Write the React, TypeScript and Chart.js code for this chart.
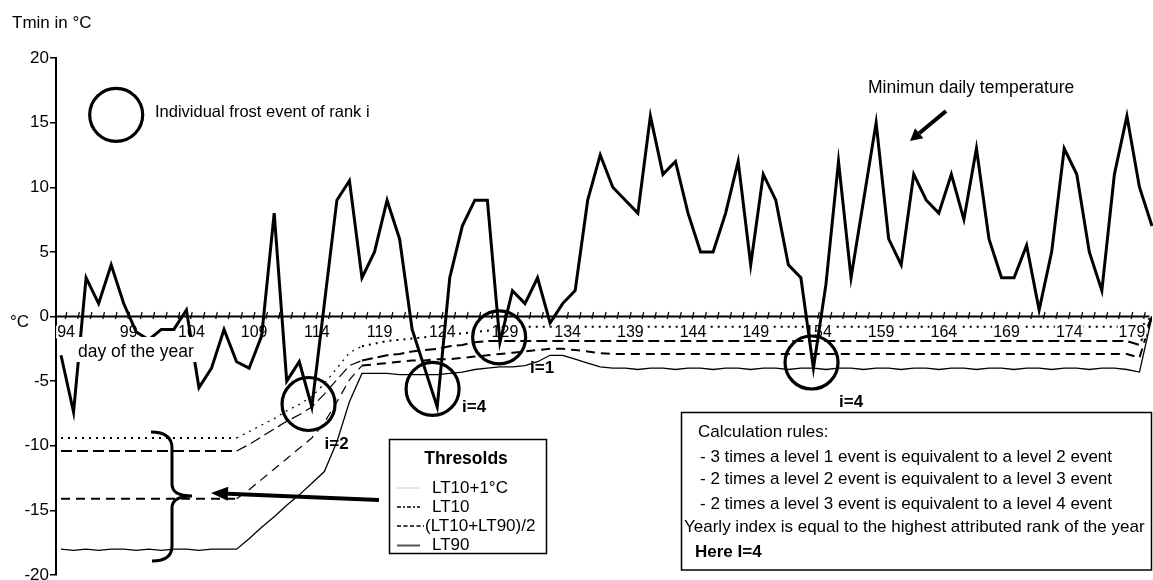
import React, { useEffect, useRef } from 'react';
import { Chart, registerables } from 'chart.js';

Chart.register(...registerables);

const FONT = '"Liberation Sans", Arial, Helvetica, sans-serif';

// Day of the year (categories)
const days = [
  94, 95, 96, 97, 98, 99, 100, 101, 102, 103,
  104, 105, 106, 107, 108, 109, 110, 111, 112, 113,
  114, 115, 116, 117, 118, 119, 120, 121, 122, 123,
  124, 125, 126, 127, 128, 129, 130, 131, 132, 133,
  134, 135, 136, 137, 138, 139, 140, 141, 142, 143,
  144, 145, 146, 147, 148, 149, 150, 151, 152, 153,
  154, 155, 156, 157, 158, 159, 160, 161, 162, 163,
  164, 165, 166, 167, 168, 169, 170, 171, 172, 173,
  174, 175, 176, 177, 178, 179, 180, 181,
];

// Minimum daily temperature (°C)
const tmin = [
  -3, -7.4, 3, 1, 4, 1, -1.2, -1.8, -1, -1,
  0.5, -5.5, -4, -1, -3.5, -4, -1.5, 8, -5, -3.5,
  -7, 1, 9, 10.5, 3, 5, 9, 6, -1, -4,
  -7, 3, 7, 9, 9, -2, 2, 1, 3, -0.5,
  1, 2, 9, 12.5, 10, 9, 8, 15.5, 11, 12,
  8, 5, 5, 8, 12, 4, 11, 9, 4, 3,
  -4, 2.5, 12, 3, 9, 15, 6, 4, 11, 9,
  8, 11, 7.5, 13, 6, 3, 3, 5.5, 0.5, 5,
  13, 11, 5, 2, 11, 15.5, 10, 7,
];

// LT10 + 1°C threshold
const lt10plus1 = [
  -9.4, -9.4, -9.4, -9.4, -9.4, -9.4, -9.4, -9.4, -9.4, -9.4,
  -9.4, -9.4, -9.4, -9.4, -9.4, -8.9, -8.4, -7.9, -7.3, -6.8,
  -6.2, -5.2, -4.0, -2.8, -2.3, -2.1, -1.9, -1.8, -1.7, -1.6,
  -1.5, -1.4, -1.3, -1.2, -1.1, -1.0, -0.9, -0.8, -0.8, -0.8,
  -0.8, -0.8, -0.8, -0.8, -0.8, -0.8, -0.8, -0.8, -0.8, -0.8,
  -0.8, -0.8, -0.8, -0.8, -0.8, -0.8, -0.8, -0.8, -0.8, -0.8,
  -0.8, -0.8, -0.8, -0.8, -0.8, -0.8, -0.8, -0.8, -0.8, -0.8,
  -0.8, -0.8, -0.8, -0.8, -0.8, -0.8, -0.8, -0.8, -0.8, -0.8,
  -0.8, -0.8, -0.8, -0.8, -0.8, -0.8, -0.9, 0,
];

// LT10 threshold
const lt10 = [
  -10.4, -10.4, -10.4, -10.4, -10.4, -10.4, -10.4, -10.4, -10.4, -10.4,
  -10.4, -10.4, -10.4, -10.4, -10.4, -9.9, -9.3, -8.7, -8.1, -7.6,
  -7.0, -6.0, -4.9, -3.8, -3.4, -3.2, -3.0, -2.9, -2.7, -2.6,
  -2.5, -2.3, -2.2, -2.0, -1.9, -1.9, -1.9, -1.9, -1.9, -1.9,
  -1.9, -1.9, -1.9, -1.9, -1.9, -1.9, -1.9, -1.9, -1.9, -1.9,
  -1.9, -1.9, -1.9, -1.9, -1.9, -1.9, -1.9, -1.9, -1.9, -1.9,
  -1.9, -1.9, -1.9, -1.9, -1.9, -1.9, -1.9, -1.9, -1.9, -1.9,
  -1.9, -1.9, -1.9, -1.9, -1.9, -1.9, -1.9, -1.9, -1.9, -1.9,
  -1.9, -1.9, -1.9, -1.9, -1.9, -1.9, -2.2, 0,
];

// (LT10 + LT90) / 2 threshold
const ltMid = [
  -14.1, -14.1, -14.1, -14.1, -14.1, -14.1, -14.1, -14.1, -14.1, -14.1,
  -14.1, -14.1, -14.1, -14.1, -14.1, -13.4, -12.6, -11.8, -11.0, -10.2,
  -9.4, -8.2, -6.6, -4.9, -3.8, -3.7, -3.6, -3.5, -3.4, -3.4,
  -3.3, -3.3, -3.2, -3.1, -3.0, -2.9, -2.8, -2.7, -2.6, -2.5,
  -2.5, -2.6, -2.7, -2.85, -2.9, -2.9, -2.9, -2.9, -2.9, -2.9,
  -2.9, -2.9, -2.9, -2.9, -2.9, -2.9, -2.9, -2.9, -2.9, -2.9,
  -2.9, -2.9, -2.9, -2.9, -2.9, -2.9, -2.9, -2.9, -2.9, -2.9,
  -2.9, -2.9, -2.9, -2.9, -2.9, -2.9, -2.9, -2.9, -2.9, -2.9,
  -2.9, -2.9, -2.9, -2.9, -2.9, -2.9, -3.2, 0,
];

// LT90 threshold
const lt90 = [
  -18.0, -18.1, -18.0, -18.1, -18.0, -18.0, -18.1, -18.0, -18.1, -18.0,
  -18.0, -18.1, -18.0, -18.0, -18.0, -17.2, -16.3, -15.5, -14.6, -13.8,
  -12.9, -12.0, -9.7, -6.6, -4.4, -4.4, -4.4, -4.5, -4.5, -4.5,
  -4.5, -4.4, -4.3, -4.1, -4.0, -3.9, -3.9, -3.8, -3.5, -3.0,
  -3.0, -3.3, -3.6, -3.9, -4.0, -4.0, -4.1, -4.0, -4.0, -4.1,
  -4.0, -4.0, -4.1, -4.0, -4.0, -4.1, -4.0, -4.0, -4.1, -4.0,
  -4.0, -4.1, -4.0, -4.0, -4.1, -4.0, -4.0, -4.1, -4.0, -4.0,
  -4.1, -4.0, -4.0, -4.1, -4.0, -4.0, -4.1, -4.0, -4.0, -4.1,
  -4.0, -4.0, -4.1, -4.0, -4.0, -4.1, -4.3, 0,
];

// Axis tick labels
const xLabelDays = [94, 99, 104, 109, 114, 119, 124, 129, 134, 139, 144, 149, 154, 159, 164, 169, 174, 179];
const yTickValues = [-20, -15, -10, -5, 0, 5, 10, 15, 20];

// Annotations (anchored in data space)
const eventCircles = [
  { day: 113.74, value: -6.77 },
  { day: 123.63, value: -5.6 },
  { day: 128.94, value: -1.62 },
  { day: 153.85, value: -3.56 },
];
const rankLabels = [
  { text: 'i=2', day: 115.98, value: -9.86 },
  { text: 'i=4', day: 126.94, value: -7.0 },
  { text: 'i=1', day: 132.36, value: -3.98 },
  { text: 'i=4', day: 157.0, value: -6.61 },
];
const legendCircle = { day: 98.4, value: 15.6 };

const thresholdNames = ['LT10+1°C', 'LT10', '(LT10+LT90)/2', 'LT90'];
const rulesTitle = 'Calculation rules:';
const rulesItems = [
  '- 3 times a level 1 event is equivalent to a level 2 event',
  '- 2 times a level 2 event is equivalent to a level 3 event',
  '- 2 times a level 3 event is equivalent to a level 4 event',
];
const rulesYearly = 'Yearly index is equal to the highest attributed rank of the year';
const rulesResult = 'Here I=4';

function drawArrow(ctx: CanvasRenderingContext2D, x1: number, y1: number, x2: number, y2: number, w: number, headLen: number, headHalf: number) {
  const a = Math.atan2(y2 - y1, x2 - x1);
  const bx = x2 - headLen * Math.cos(a);
  const by = y2 - headLen * Math.sin(a);
  ctx.lineWidth = w;
  ctx.beginPath();
  ctx.moveTo(x1, y1);
  ctx.lineTo(bx, by);
  ctx.stroke();
  ctx.beginPath();
  ctx.moveTo(x2, y2);
  ctx.lineTo(bx + headHalf * Math.sin(a), by - headHalf * Math.cos(a));
  ctx.lineTo(bx - headHalf * Math.sin(a), by + headHalf * Math.cos(a));
  ctx.closePath();
  ctx.fill();
}

const overlayPlugin = {
  id: 'overlay',
  beforeDatasetsDraw(chart: any) {
    const { ctx, chartArea } = chart;
    const x = chart.scales.x;
    const y = chart.scales.y;
    const y0 = y.getPixelForValue(0);
    ctx.save();
    ctx.strokeStyle = '#000';
    ctx.lineWidth = 2;
    ctx.beginPath();
    ctx.moveTo(chartArea.left, y0);
    ctx.lineTo(x.getPixelForValue(180.8), y0);
    ctx.stroke();
    ctx.lineWidth = 1.2;
    ctx.beginPath();
    for (let i = 0; i < days.length - 1; i++) {
      const px = x.getPixelForValue(days[i] + 0.4);
      ctx.moveTo(px - 0.8, y0 + 2.5);
      ctx.lineTo(px + 0.8, y0 - 4.5);
    }
    ctx.stroke();
    ctx.restore();
  },
  beforeDatasetDraw(chart: any, args: any) {
    if (args.index !== 0) return;
    const { ctx } = chart;
    const x = chart.scales.x;
    const y = chart.scales.y;
    const y0 = y.getPixelForValue(0);
    ctx.save();
    ctx.font = `16px ${FONT}`;
    ctx.textAlign = 'center';
    ctx.textBaseline = 'middle';
    for (const d of xLabelDays) {
      const px = x.getPixelForValue(d + 0.4);
      const t = String(d);
      const w = ctx.measureText(t).width;
      ctx.fillStyle = '#fff';
      ctx.fillRect(px - w / 2 - 1, y0 + 9, w + 2, 13);
      ctx.fillStyle = '#000';
      ctx.fillText(t, px, y0 + 16);
    }
    ctx.restore();
  },
  afterDatasetsDraw(chart: any) {
    const { ctx } = chart;
    const x = chart.scales.x;
    const y = chart.scales.y;
    ctx.save();
    ctx.fillStyle = '#000';
    ctx.strokeStyle = '#000';

    // "day of the year" with white box
    ctx.fillStyle = '#fff';
    ctx.fillRect(76, 337, 123, 25);
    ctx.fillStyle = '#000';
    ctx.font = `17.5px ${FONT}`;
    ctx.textAlign = 'left';
    ctx.textBaseline = 'middle';
    ctx.fillText('day of the year', 78, 352);

    // Titles
    ctx.font = `17px ${FONT}`;
    ctx.fillText('Tmin in °C', 12, 23);
    ctx.fillText('°C', 10, 322);

    // Event circles
    ctx.lineWidth = 3.2;
    for (const c of eventCircles) {
      ctx.beginPath();
      ctx.arc(x.getPixelForValue(c.day), y.getPixelForValue(c.value), 26.5, 0, Math.PI * 2);
      ctx.stroke();
    }
    ctx.beginPath();
    ctx.arc(x.getPixelForValue(legendCircle.day), y.getPixelForValue(legendCircle.value), 26.5, 0, Math.PI * 2);
    ctx.stroke();
    ctx.font = `16.5px ${FONT}`;
    ctx.textAlign = 'left';
    ctx.fillText('Individual frost event of rank i', 155, 112);

    // Rank labels
    ctx.font = `bold 17px ${FONT}`;
    ctx.textAlign = 'center';
    for (const r of rankLabels) {
      ctx.fillText(r.text, x.getPixelForValue(r.day), y.getPixelForValue(r.value));
    }

    // Minimum daily temperature label + arrow
    ctx.font = `17.5px ${FONT}`;
    ctx.textAlign = 'left';
    ctx.fillText('Minimun daily temperature', 868, 88);
    drawArrow(ctx, 946, 111, 910, 141, 4, 12, 6.5);

    // Brace
    ctx.lineWidth = 3;
    ctx.beginPath();
    ctx.moveTo(151, 432);
    ctx.quadraticCurveTo(172, 432, 172, 448);
    ctx.lineTo(172, 484);
    ctx.quadraticCurveTo(172, 496, 192, 496);
    ctx.quadraticCurveTo(172, 496, 172, 508);
    ctx.lineTo(172, 546);
    ctx.quadraticCurveTo(172, 561, 152, 561);
    ctx.stroke();

    // Arrow toward the brace
    drawArrow(ctx, 379, 500, 211, 493, 4, 17, 7);

    // Threshold legend box
    ctx.fillStyle = '#fff';
    ctx.fillRect(389.5, 439.5, 157, 114);
    ctx.lineWidth = 1.5;
    ctx.strokeRect(389.5, 439.5, 157, 114);
    ctx.fillStyle = '#000';
    ctx.font = `bold 17.5px ${FONT}`;
    ctx.textAlign = 'center';
    ctx.fillText('Thresolds', 466, 459);
    ctx.font = `17px ${FONT}`;
    ctx.textAlign = 'left';
    const ly = [488, 507, 526, 545.5];
    ctx.save();
    ctx.strokeStyle = '#8a8a8a';
    ctx.lineWidth = 1;
    ctx.setLineDash([1, 1.5]);
    ctx.beginPath(); ctx.moveTo(397, ly[0]); ctx.lineTo(420, ly[0]); ctx.stroke();
    ctx.strokeStyle = '#000';
    ctx.lineWidth = 1.6;
    ctx.setLineDash([4, 2, 2, 2]);
    ctx.beginPath(); ctx.moveTo(397, ly[1]); ctx.lineTo(420, ly[1]); ctx.stroke();
    ctx.setLineDash([4, 2.5]);
    ctx.beginPath(); ctx.moveTo(397, ly[2]); ctx.lineTo(424, ly[2]); ctx.stroke();
    ctx.setLineDash([]);
    ctx.strokeStyle = '#555';
    ctx.lineWidth = 2;
    ctx.beginPath(); ctx.moveTo(397, ly[3]); ctx.lineTo(420, ly[3]); ctx.stroke();
    ctx.restore();
    ctx.fillText(thresholdNames[0], 432, ly[0]);
    ctx.fillText(thresholdNames[1], 432, ly[1]);
    ctx.fillText(thresholdNames[2], 425, ly[2]);
    ctx.fillText(thresholdNames[3], 432, ly[3]);

    // Calculation rules box
    ctx.fillStyle = '#fff';
    ctx.fillRect(681.5, 412.5, 470, 157.5);
    ctx.lineWidth = 1.5;
    ctx.strokeRect(681.5, 412.5, 470, 157.5);
    ctx.fillStyle = '#000';
    ctx.font = `17px ${FONT}`;
    ctx.textAlign = 'left';
    ctx.fillText(rulesTitle, 698, 432);
    const ry = [457, 479, 504];
    rulesItems.forEach((t, i) => ctx.fillText(t, 700, ry[i]));
    ctx.fillText(rulesYearly, 684, 527);
    ctx.font = `bold 17px ${FONT}`;
    ctx.fillText(rulesResult, 695, 552);

    ctx.restore();
  },
};

export default function App() {
  const ref = useRef<HTMLCanvasElement | null>(null);

  useEffect(() => {
    if (!ref.current) return;
    const thin = (w: number) => (ctx: any) =>
      ctx.p0.parsed.x >= 108 && ctx.p1.parsed.x <= 118 ? 1.2 : w;
    const pts = (vals: number[]) => days.map((d, i) => ({ x: d, y: vals[i] }));
    const chart = new Chart(ref.current, {
      type: 'line',
      data: {
        datasets: [
          {
            label: 'Minimun daily temperature',
            data: pts(tmin),
            borderColor: '#000',
            borderWidth: 3,
            borderJoinStyle: 'miter',
            pointRadius: 0,
            tension: 0,
            clip: false,
          },
          {
            label: 'LT10+1°C',
            data: pts(lt10plus1),
            borderColor: '#000',
            borderWidth: 2,
            borderDash: [2, 5],
            pointRadius: 0,
            tension: 0,
            segment: { borderWidth: thin(2) },
          },
          {
            label: 'LT10',
            data: pts(lt10),
            borderColor: '#000',
            borderWidth: 2,
            borderDash: [11, 5],
            pointRadius: 0,
            tension: 0,
            segment: { borderWidth: thin(2) },
          },
          {
            label: '(LT10+LT90)/2',
            data: pts(ltMid),
            borderColor: '#000',
            borderWidth: 2,
            borderDash: [9, 6],
            pointRadius: 0,
            tension: 0,
            segment: { borderWidth: thin(2) },
          },
          {
            label: 'LT90',
            data: pts(lt90),
            borderColor: '#000',
            borderWidth: 1.3,
            pointRadius: 0,
            tension: 0,
          },
        ],
      },
      options: {
        animation: false,
        responsive: false,
        devicePixelRatio: 1,
        layout: { padding: { top: 58, bottom: 5, left: 0, right: 1 } },
        plugins: {
          legend: { display: false },
          tooltip: { enabled: false },
        },
        scales: {
          x: {
            type: 'linear',
            min: 93.6,
            max: 181,
            display: false,
          },
          y: {
            type: 'linear',
            min: -20,
            max: 20,
            afterBuildTicks: (s: any) => {
              s.ticks = yTickValues.map((v) => ({ value: v }));
            },
            afterFit: (s: any) => {
              s.width = 56;
              s.paddingTop = 0;
              s.paddingBottom = 0;
            },
            ticks: {
              color: '#000',
              padding: 1,
              font: { size: 17, family: FONT },
            },
            grid: {
              drawOnChartArea: false,
              drawTicks: true,
              tickLength: 6,
              color: '#000',
              lineWidth: 1.5,
            },
            border: { display: true, color: '#000', width: 2 },
          },
        },
      },
      plugins: [overlayPlugin],
    } as any);
    return () => chart.destroy();
  }, []);

  return (
    <div style={{ position: 'absolute', left: 0, top: 0, width: 1153, height: 580, background: '#fff', overflow: 'hidden' }}>
      <canvas ref={ref} width={1153} height={580} style={{ display: 'block' }} />
    </div>
  );
}
